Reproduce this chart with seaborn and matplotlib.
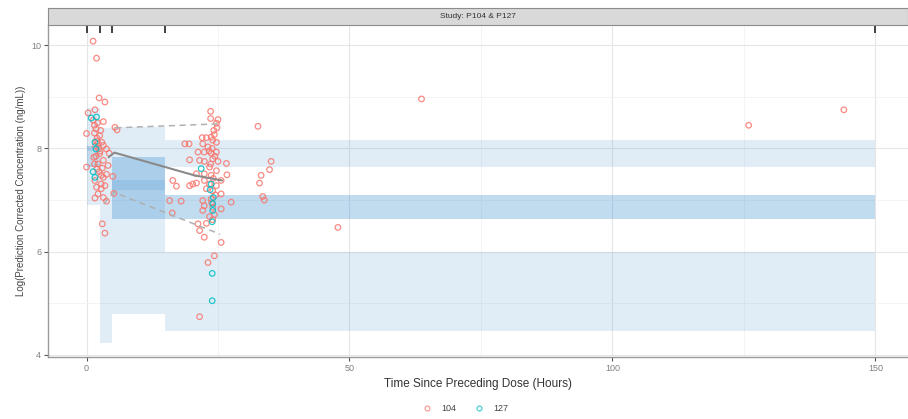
import numpy as np
import pandas as pd
import matplotlib
matplotlib.use("Agg")
import matplotlib.pyplot as plt
import seaborn as sns
from matplotlib.lines import Line2D

# ---- VPC bins (hours) ----
bin_lo = [0.0, 2.6, 4.8, 15.0]
bin_hi = [2.6, 4.8, 15.0, 150.0]

# prediction intervals per bin (simulated percentiles)
pi_upper_lo = [7.95, 7.00, 7.20, 7.65]
pi_upper_hi = [8.78, 8.39, 8.41, 8.17]
pi_med_lo = [7.65, np.nan, 6.64, 6.64]
pi_med_hi = [8.05, np.nan, 7.83, 7.09]
pi_lower_lo = [6.90, 4.23, 4.80, 4.46]
pi_lower_hi = [7.70, 7.00, 7.38, 5.99]

# observed percentile lines
obs_med_x = [4.2, 5.3, 20.5, 25.8]
obs_med_y = [7.83, 7.92, 7.48, 7.38]
obs_hi_x = [5.5, 25.8]
obs_hi_y = [8.40, 8.48]
obs_lo_x = [3.3, 5.2, 25.4]
obs_lo_y = [6.93, 7.15, 6.34]

# bin boundary marks on top
bin_marks = [0.0, 2.6, 4.8, 15.0, 150.0]

# ---- observed data: study 104 ----
x104 = [1.25, 1.9, 2.4, 3.5, 0.3, 1.6, 3.2, 0.0, 5.4, 5.8, 2.5, 1.9, 3.2, 3.8, 4.3, 2.5,
        1.4, 3.2, 0.0, 2.2, 4.1, 5.0, 2.8, 3.8, 2.8, 1.6, 3.2, 2.8, 1.6, 3.2, 3.8, 5.2,
        3.0, 3.5, 1.5, 1.8, 1.5, 2.0, 1.7, 2.3, 2.9, 2.6, 1.5, 2.0, 2.4, 1.9, 2.2, 3.5,
        1.3, 2.1, 2.7, 3.0, 1.8, 2.2,
        23.6, 23.6, 25.0, 24.7, 32.6, 18.7, 19.5, 22.0, 22.8, 23.7, 24.3, 24.0, 24.7, 22.1,
        23.1, 21.2, 22.4, 23.7, 24.7, 19.6, 21.5, 22.4, 24.0, 25.0, 26.6, 23.4, 24.7, 26.7,
        22.4, 23.7, 20.9, 22.4, 23.4, 24.7, 17.1, 25.6, 22.8, 24.0, 15.8, 18.0, 22.1, 23.7,
        25.6, 27.5, 22.4, 24.0, 25.6, 22.1, 23.4, 21.2, 22.8, 21.5, 22.4, 25.6,
        35.1, 34.8, 33.2, 32.9, 33.5, 33.8, 24.3, 23.1, 21.5,
        16.4, 20.9, 20.2, 19.6, 16.3,
        24.2, 23.9, 24.4, 23.6, 24.1, 24.5, 23.8, 24.3, 24.0, 23.3, 24.8,
        63.7, 125.9, 144.0, 47.8]
y104 = [10.08, 9.75, 8.98, 8.90, 8.69, 8.75, 8.52, 8.29, 8.41, 8.36, 8.25, 8.14, 8.06, 7.99, 7.91, 7.90,
        7.83, 7.77, 7.64, 7.70, 7.67, 7.46, 7.48, 7.50, 7.31, 7.38, 7.44, 7.22, 7.04, 7.05, 6.98, 7.13,
        6.54, 6.36, 8.45, 8.38, 8.30, 8.20, 8.05, 8.00, 8.12, 7.95, 7.70, 7.60, 7.55, 7.25, 7.12, 7.28,
        8.55, 8.50, 8.35, 7.62, 7.85, 8.10,
        8.72, 8.58, 8.56, 8.49, 8.43, 8.09, 8.09, 8.21, 8.21, 8.22, 8.27, 8.16, 8.12, 8.09,
        8.03, 7.93, 7.93, 7.91, 7.93, 7.78, 7.77, 7.75, 7.80, 7.75, 7.71, 7.64, 7.57, 7.49,
        7.51, 7.48, 7.33, 7.38, 7.31, 7.28, 7.27, 7.38, 7.22, 7.18, 6.99, 6.98, 6.99, 7.02,
        7.12, 6.96, 6.89, 6.86, 6.83, 6.80, 6.68, 6.54, 6.55, 6.41, 6.28, 6.18,
        7.75, 7.59, 7.48, 7.33, 7.07, 7.00, 5.92, 5.79, 4.74,
        7.38, 7.51, 7.31, 7.28, 6.75,
        8.35, 8.00, 7.85, 7.70, 7.42, 7.10, 6.95, 6.72, 6.62, 7.95, 8.40,
        8.96, 8.45, 8.75, 6.47]

# ---- observed data: study 127 ----
x127 = [0.9, 1.9, 1.6, 1.8, 1.25, 1.6, 21.8, 23.5, 23.7, 24.0, 23.9, 23.9, 23.9, 24.0, 24.1]
y127 = [8.59, 8.61, 8.12, 7.99, 7.55, 7.44, 7.61, 7.20, 7.31, 6.93, 6.58, 5.58, 5.05, 6.80, 7.05]

studies = ["104", "127"]
colors = {"104": "#F8766D", "127": "#00BFC4"}

df = pd.DataFrame({
    "time": x104 + x127,
    "conc": y104 + y127,
    "study": ["104"] * len(x104) + ["127"] * len(x127),
})

sns.set_style("whitegrid")
plt.rcParams["font.family"] = ["Liberation Sans", "DejaVu Sans"]

fig = plt.figure(figsize=(9.08, 4.19), dpi=100)
ax = fig.add_axes([0.053, 0.148, 0.947, 0.792])

# shaded prediction intervals
blue = "#3388cc"
widths = [h - l for l, h in zip(bin_lo, bin_hi)]
for lo, hi, a in [(pi_upper_lo, pi_upper_hi, 0.15),
                  (pi_lower_lo, pi_lower_hi, 0.15),
                  (pi_med_lo, pi_med_hi, 0.30)]:
    heights = [h - l for l, h in zip(lo, hi)]
    ax.bar(bin_lo, heights, bottom=lo, width=widths, align="edge",
           color=blue, alpha=a, linewidth=0, zorder=1)

# observed points
for s in studies:
    sub = df[df["study"] == s]
    ax.scatter(sub["time"], sub["conc"], s=16, facecolors="none",
               edgecolors=colors[s], linewidths=0.9, alpha=0.85, zorder=3)

# observed percentile lines
sns.lineplot(x=obs_med_x, y=obs_med_y, ax=ax, color="#8a8a8a", lw=1.5, zorder=4)
ax.plot(obs_hi_x, obs_hi_y, color="#b0b0b0", lw=1.1, ls=(0, (4, 3)), zorder=4)
ax.plot(obs_lo_x, obs_lo_y, color="#b0b0b0", lw=1.1, ls=(0, (4, 3)), zorder=4)

# bin marks at top of panel
ax.vlines(bin_marks, 0.975, 1.0, transform=ax.get_xaxis_transform(),
          color="#333333", lw=1.3, zorder=5)

ax.set_xlim(-7.3, 156.2)
ax.set_ylim(3.96, 10.39)
ax.set_xticks([0, 50, 100, 150])
ax.set_yticks([4, 6, 8, 10])
ax.set_xticks([25, 75, 125], minor=True)
ax.set_yticks([5, 7, 9], minor=True)
ax.grid(which="major", color="#e6e6e6", lw=0.8)
ax.grid(which="minor", color="#f2f2f2", lw=0.6)
ax.set_axisbelow(True)
for side in ["top", "right"]:
    ax.spines[side].set_visible(False)
for side in ["left", "bottom"]:
    ax.spines[side].set_color("#9a9a9a")
    ax.spines[side].set_linewidth(1.0)
ax.tick_params(axis="both", which="major", length=3, width=0.8, color="#555555",
               labelsize=6.5, labelcolor="#808080", pad=2, bottom=True, left=True)
ax.tick_params(which="minor", length=0)

ax.set_xlabel("Time Since Preceding Dose (Hours)", fontsize=8.5, color="#333333", labelpad=4)
ax.set_ylabel("Log(Prediction Corrected Concentration (ng/mL))", fontsize=7, color="#444444", labelpad=4)

# facet strip
strip = fig.add_axes([0.053, 0.940, 0.947, 0.041])
strip.set_facecolor("#d9d9d9")
strip.set_xticks([])
strip.set_yticks([])
for sp in strip.spines.values():
    sp.set_color("#8c8c8c")
    sp.set_linewidth(0.8)
strip.text(0.5, 0.5, "Study: P104 & P127", ha="center", va="center",
           fontsize=6, color="#333333", transform=strip.transAxes)

# legend below
handles = [Line2D([], [], marker="o", ls="none", markersize=3.5, markerfacecolor="none",
                  markeredgecolor=colors[s], markeredgewidth=0.9, alpha=0.7, label=s)
           for s in studies]
fig.legend(handles=handles, loc="center", bbox_to_anchor=(0.51, 0.025), ncol=2,
           frameon=False, fontsize=6.5, handletextpad=0.6, columnspacing=1.5,
           labelcolor="#444444")

fig.savefig("out.png", dpi=100)
